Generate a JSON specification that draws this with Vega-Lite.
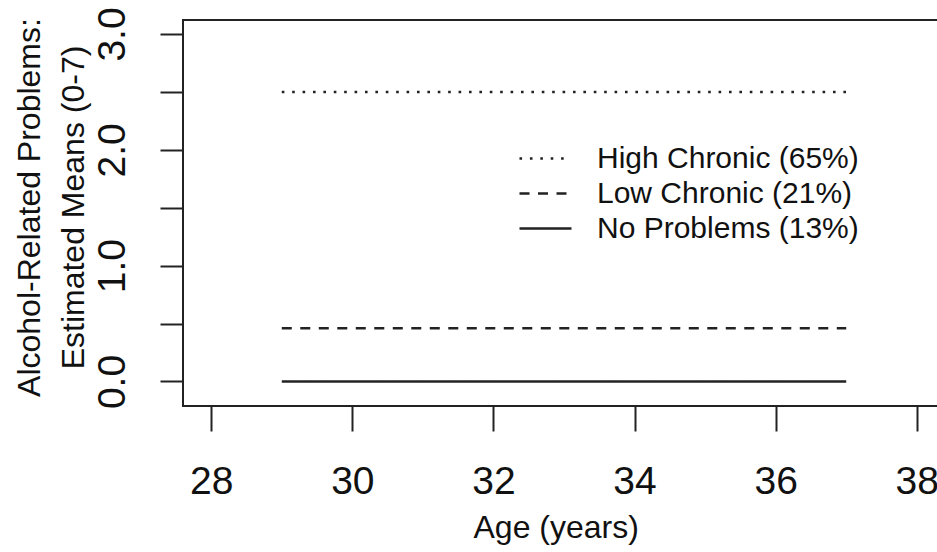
{
  "$schema": "https://vega.github.io/schema/vega-lite/v6.json",
  "autosize": {"type": "none"},
  "padding": {"left": 183, "top": 20, "right": -8, "bottom": 146},
  "width": 762,
  "height": 386,
  "background": "white",
  "config": {
    "font": "Liberation Sans",
    "view": {"stroke": "#222", "strokeWidth": 2},
    "axis": {
      "grid": false,
      "domain": false,
      "tickColor": "#222",
      "tickWidth": 2,
      "labelColor": "#111",
      "titleColor": "#111",
      "labelFont": "Liberation Sans",
      "titleFont": "Liberation Sans",
      "titleFontWeight": "normal",
      "labelFlush": false,
      "labelOverlap": false
    }
  },
  "data": {
    "values": [
      {"group": "High Chronic (65%)", "age": 29, "mean": 2.5},
      {"group": "High Chronic (65%)", "age": 37, "mean": 2.5},
      {"group": "Low Chronic (21%)", "age": 29, "mean": 0.46},
      {"group": "Low Chronic (21%)", "age": 37, "mean": 0.46},
      {"group": "No Problems (13%)", "age": 29, "mean": 0.0},
      {"group": "No Problems (13%)", "age": 37, "mean": 0.0}
    ]
  },
  "mark": {"type": "line", "color": "#222", "strokeWidth": 2.5, "clip": true},
  "encoding": {
    "x": {
      "field": "age",
      "type": "quantitative",
      "scale": {"domain": [27.6, 38.4], "nice": false, "zero": false},
      "axis": {
        "values": [28, 30, 32, 34, 36, 38],
        "format": "d",
        "tickSize": 25,
        "labelFontSize": 39,
        "labelPadding": 62,
        "labelBaseline": "alphabetic",
        "title": "Age (years)",
        "titleFontSize": 32,
        "titleAnchor": "start",
        "titleAlign": "left",
        "titleX": 290,
        "titleY": 131,
        "titleBaseline": "alphabetic"
      }
    },
    "y": {
      "field": "mean",
      "type": "quantitative",
      "scale": {"domain": [-0.2116, 3.121], "nice": false, "zero": false},
      "axis": {
        "values": [0, 0.5, 1, 1.5, 2, 2.5, 3],
        "labelExpr": "datum.value == 0 ? '0.0' : datum.value == 1 ? '1.0' : datum.value == 2 ? '2.0' : datum.value == 3 ? '3.0' : ''",
        "tickSize": 23,
        "labelFontSize": 39,
        "labelAngle": 270,
        "labelAlign": "center",
        "labelBaseline": "alphabetic",
        "labelPadding": 36,
        "title": ["Alcohol-Related Problems:", "Estimated Means (0-7)"],
        "titleFontSize": 32,
        "titleLineHeight": 44,
        "titleAngle": 270,
        "titleAlign": "center",
        "titleBaseline": "alphabetic",
        "titleX": -144,
        "titleY": 187
      }
    },
    "strokeDash": {
      "field": "group",
      "type": "nominal",
      "scale": {
        "domain": ["High Chronic (65%)", "Low Chronic (21%)", "No Problems (13%)"],
        "range": [[2.6, 7.8], [10, 8.5], [1, 0]]
      },
      "legend": {
        "title": null,
        "orient": "none",
        "legendX": 346,
        "legendY": 122,
        "padding": 0,
        "symbolType": "M-1.7333,0H1.7333",
        "symbolSize": 900,
        "symbolStrokeWidth": 2.5,
        "symbolStrokeColor": "#222",
        "symbolFillColor": "transparent",
        "labelFontSize": 30,
        "labelColor": "#111",
        "labelFont": "Liberation Sans",
        "labelOffset": 35,
        "rowPadding": 3,
        "labelLimit": 400
      }
    }
  }
}
